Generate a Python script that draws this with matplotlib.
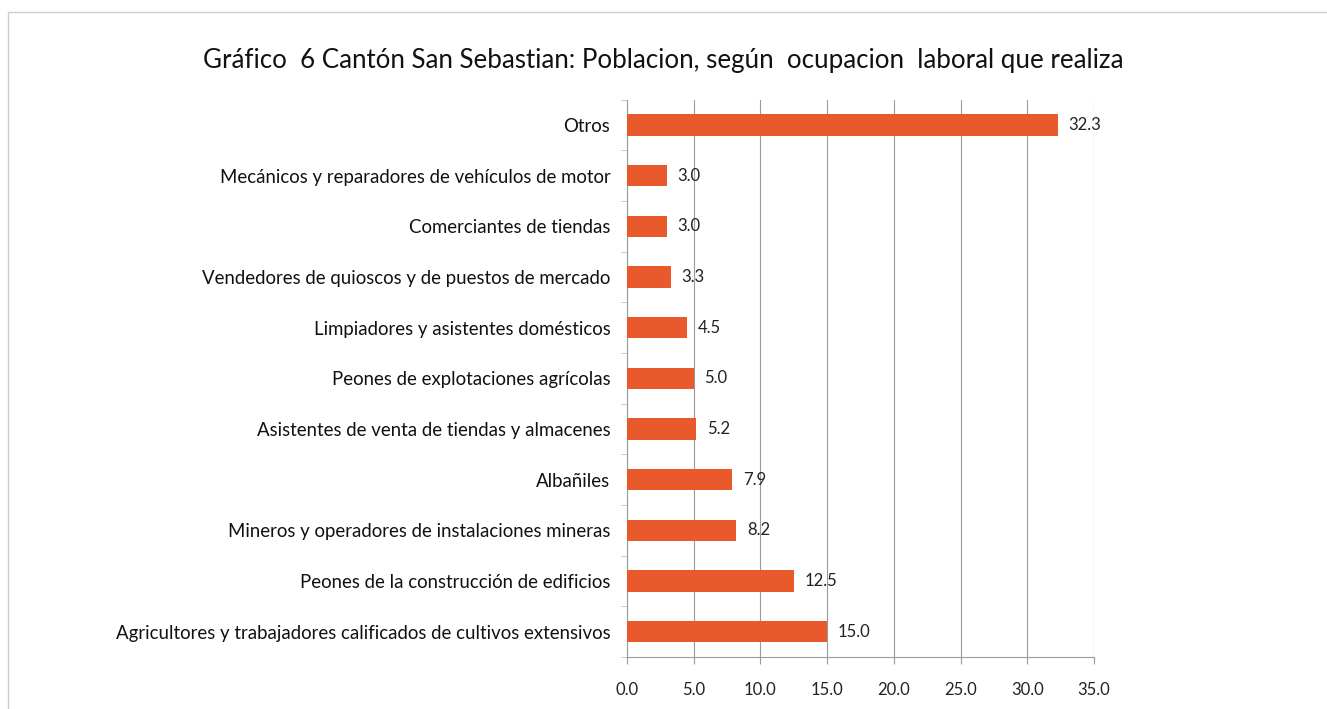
import matplotlib
matplotlib.use("Agg")
import matplotlib.pyplot as plt
from matplotlib.patches import Rectangle

TITLE = "Gráfico  6 Cantón San Sebastian: Poblacion, según  ocupacion  laboral que realiza"
CATEGORIES = [
    "Agricultores y trabajadores calificados de cultivos extensivos",
    "Peones de la construcción de edificios",
    "Mineros y operadores de instalaciones mineras",
    "Albañiles",
    "Asistentes de venta de tiendas y almacenes",
    "Peones de explotaciones agrícolas",
    "Limpiadores y asistentes domésticos",
    "Vendedores de quioscos y de puestos de mercado",
    "Comerciantes de tiendas",
    "Mecánicos y reparadores de vehículos de motor",
    "Otros",
]
VALUES = [15.0, 12.5, 8.2, 7.9, 5.2, 5.0, 4.5, 3.3, 3.0, 3.0, 32.3]
X_TICKS = [0, 5, 10, 15, 20, 25, 30, 35]

BAR_COLOR = "#E8592B"
GRID_COLOR = "#9A9A9A"

plt.rcParams["font.family"] = ["Lato", "DejaVu Sans"]

fig = plt.figure(figsize=(13.27, 7.09), dpi=100)
ax = fig.add_axes([0.4725, 0.0733, 0.352, 0.786])

y = list(range(len(CATEGORIES)))
ax.barh(y, VALUES, height=0.42, color=BAR_COLOR, zorder=3)
for yi, v in zip(y, VALUES):
    ax.text(v + 0.8, yi, f"{v:.1f}", va="center", ha="left", fontsize=12, color="#222222", zorder=4)

ax.set_xlim(0, 35)
ax.set_ylim(-0.5, len(CATEGORIES) - 0.5)
ax.set_xticks(X_TICKS)
ax.set_xticklabels([f"{t:.1f}" for t in X_TICKS], fontsize=12, color="#222222")
ax.set_yticks(y)
ax.set_yticklabels(CATEGORIES, fontsize=13.4, color="#111111")
ax.tick_params(axis="y", length=0, pad=12)
ax.tick_params(axis="x", length=5, color=GRID_COLOR, pad=13)
ax.set_yticks([i - 0.5 for i in range(len(CATEGORIES) + 1)], minor=True)
ax.tick_params(axis="y", which="minor", length=4, color="#BBBBBB")
ax.xaxis.grid(True, color=GRID_COLOR, linewidth=0.8, zorder=0)
for side in ["top", "right"]:
    ax.spines[side].set_visible(False)
for side in ["left", "bottom"]:
    ax.spines[side].set_color(GRID_COLOR)
    ax.spines[side].set_linewidth(0.8)

fig.text(0.5, 0.915, TITLE, ha="center", va="center", fontsize=18.6, color="#111111")

# thin frame around the chart area
fig.patches.append(Rectangle((0.006, -0.01), 1.2, 0.993, transform=fig.transFigure,
                             fill=False, edgecolor="#CCCCCC", linewidth=1.0))

fig.savefig("out.png", dpi=100)
